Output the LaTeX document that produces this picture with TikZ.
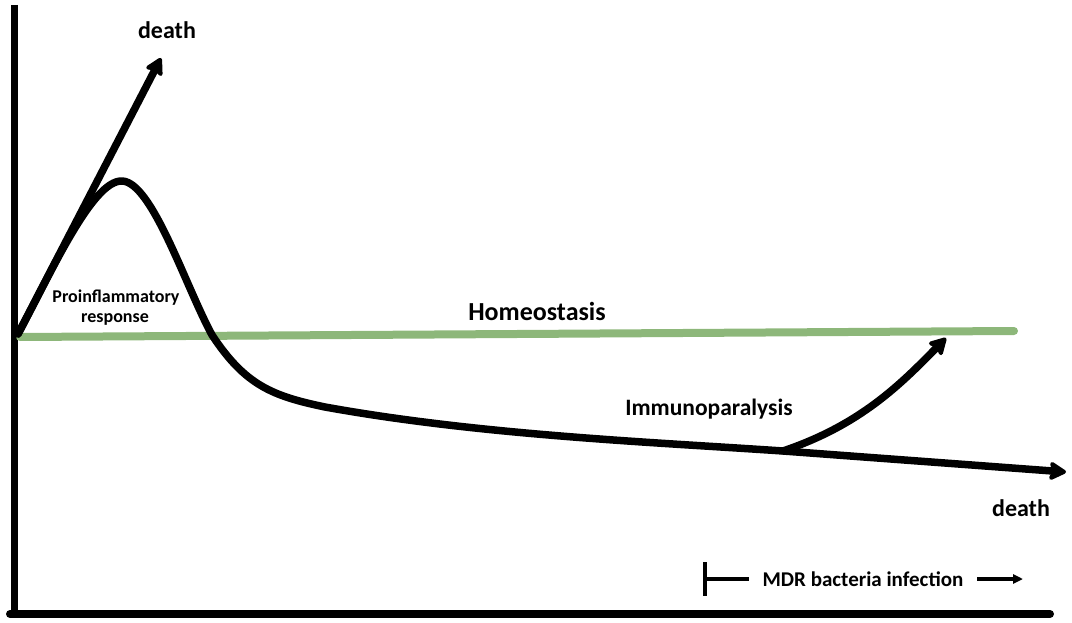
\documentclass[tikz,border=0pt]{standalone}
\usepackage{fontspec}
\setmainfont{Carlito}
\usetikzlibrary{arrows.meta}
\definecolor{homeo}{RGB}{141,183,122}
\tikzset{
  curve/.style={line width=7.5pt, line cap=round, line join=round},
  axis/.style={line width=7pt},
  bigarrow/.style={curve, -{Stealth[length=20pt,width=22pt,inset=4pt,round]}},
  lbl/.style={font=\bfseries, inner sep=0pt},
  thinbar/.style={line width=3.2pt}
}
\begin{document}
\begin{tikzpicture}[x=1pt,y=-1pt]
\useasboundingbox (0,0) rectangle (1072,623);
% axes
\coordinate (ytop) at (14,5);
\coordinate (orig) at (14,614);
\coordinate (xend) at (1050,614);
\draw[axis] (ytop) -- (14,618);
\draw[axis, line width=8pt, line cap=round] (10,614) -- (xend);
% homeostasis line
\coordinate (h1) at (20,337);
\coordinate (h2) at (1014,331);
\draw[line width=8pt, homeo, line cap=round] (h1) -- (h2);
% main curve
\coordinate (s) at (18,334);
\coordinate (peak) at (122,181);
\coordinate (br) at (783,451);
\coordinate (dend) at (1066,472);
\coordinate (dtip) at (161,58);
\coordinate (itip) at (946,338);
\draw[bigarrow] (s) .. controls (50,275) and (92,180) .. (peak)
  .. controls (152,182) and (185,285) .. (212,335)
  .. controls (245,385) and (272,396) .. (325,407)
  .. controls (480,435) and (650,442) .. (br)
  -- (dend);
\draw[bigarrow] (s) -- (dtip);
\draw[bigarrow] (br) .. controls (860,425) and (900,385) .. (itip);
% labels
\node[lbl, font=\bfseries\fontsize{24}{26}\selectfont] (d1) at (167,30) {death};
\node[lbl, font=\bfseries\fontsize{18}{20}\selectfont] (pro) at (116,298) {Proinflammatory};
\node[lbl, font=\bfseries\fontsize{18}{20}\selectfont] (pro2) at (115,319) {response};
\node[lbl, font=\bfseries\fontsize{26}{28}\selectfont] (ho) at (537,311) {Homeostasis};
\node[lbl, font=\bfseries\fontsize{23.5}{26}\selectfont] (im) at (709,409) {Immunoparalysis};
\node[lbl, font=\bfseries\fontsize{24}{26}\selectfont] (d2) at (1021,508) {death};
\node[lbl, font=\bfseries\fontsize{21}{24}\selectfont] (mdr) at (863,579) {MDR bacteria infection};
% MDR bar
\coordinate (bt) at (705,562);
\coordinate (bb) at (705,596);
\coordinate (bm) at (705,579);
\coordinate (be) at (749,579);
\coordinate (a1) at (977,579);
\coordinate (a2) at (1023,579);
\draw[thinbar] (bt) -- (bb);
\draw[thinbar] (bm) -- (be);
\draw[thinbar, -{Triangle[length=10pt,width=9pt]}] (a1) -- (a2);
\end{tikzpicture}
\end{document}
